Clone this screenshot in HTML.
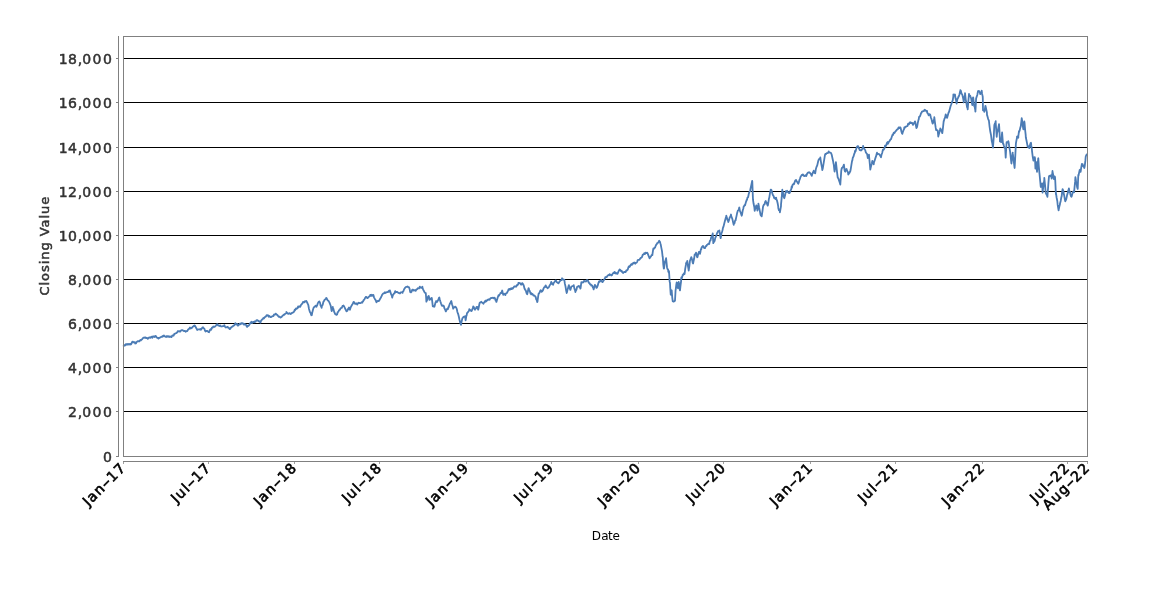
<!DOCTYPE html>
<html><head><meta charset="utf-8"><title>Chart</title>
<style>
html,body{margin:0;padding:0;background:#fff;}
body{width:1150px;height:600px;overflow:hidden;}
svg{display:block;will-change:transform;}
text{font-family:"DejaVu Sans","Liberation Sans",sans-serif;}
.yt{font-size:14px;fill:#333;stroke:#333;stroke-width:0.5px;}
.xt{font-size:14px;fill:#000;stroke:#000;stroke-width:0.6px;}
.al{font-size:12px;}
</style></head><body>
<svg width="1150" height="600" viewBox="0 0 1150 600">
<rect x="0" y="0" width="1150" height="600" fill="#ffffff"/>

<g stroke="#000" stroke-width="1" shape-rendering="crispEdges">
<line x1="123.5" y1="411.5" x2="1087.5" y2="411.5"/>
<line x1="123.5" y1="367.5" x2="1087.5" y2="367.5"/>
<line x1="123.5" y1="323.5" x2="1087.5" y2="323.5"/>
<line x1="123.5" y1="279.5" x2="1087.5" y2="279.5"/>
<line x1="123.5" y1="235.5" x2="1087.5" y2="235.5"/>
<line x1="123.5" y1="191.5" x2="1087.5" y2="191.5"/>
<line x1="123.5" y1="147.5" x2="1087.5" y2="147.5"/>
<line x1="123.5" y1="102.5" x2="1087.5" y2="102.5"/>
<line x1="123.5" y1="58.5" x2="1087.5" y2="58.5"/>
</g>
<path d="M123.7,345.9 L124.3,345.1 L125.0,345.5 L125.7,344.3 L126.3,344.7 L126.4,344.5 L127.1,344.0 L127.8,344.7 L128.4,344.0 L129.1,344.6 L129.8,344.0 L130.4,344.0 L130.5,344.5 L131.2,344.3 L131.9,342.4 L132.5,341.7 L133.0,341.7 L133.2,342.3 L133.9,342.1 L134.6,342.2 L135.3,343.5 L135.7,342.3 L136.0,343.4 L136.6,342.1 L137.3,341.5 L138.0,341.1 L138.7,341.1 L139.4,341.4 L140.1,340.1 L140.7,340.4 L140.9,340.4 L141.4,339.6 L142.1,339.4 L142.8,338.2 L143.5,337.7 L144.2,337.5 L144.9,337.8 L145.0,337.3 L145.5,337.3 L146.2,338.0 L146.9,338.0 L147.6,338.1 L147.7,338.8 L148.3,338.4 L149.0,337.4 L149.6,337.6 L150.3,337.3 L150.3,337.8 L151.0,337.5 L151.7,336.7 L152.4,337.7 L153.1,336.3 L153.7,336.6 L154.4,337.1 L155.1,336.0 L155.5,336.5 L155.8,336.0 L156.5,337.3 L157.2,337.8 L157.8,337.8 L158.5,338.6 L158.6,337.8 L159.2,338.1 L159.9,337.6 L160.6,337.2 L161.3,336.7 L162.0,336.9 L162.6,336.7 L162.8,336.0 L163.3,336.3 L164.0,335.4 L164.7,336.4 L165.4,336.4 L166.1,337.0 L166.7,336.8 L167.0,336.0 L167.4,336.3 L168.1,336.9 L168.8,336.1 L169.5,337.0 L170.2,336.7 L170.6,336.8 L170.8,336.5 L171.5,337.1 L172.2,335.6 L172.9,335.3 L173.2,335.3 L173.6,335.7 L174.3,333.9 L174.9,333.8 L175.6,333.3 L176.3,333.2 L177.0,332.5 L177.4,332.2 L177.7,331.2 L178.4,331.3 L179.1,331.0 L179.7,331.7 L180.4,331.6 L181.1,330.3 L181.8,330.2 L182.5,330.1 L182.6,330.1 L183.2,330.7 L183.8,331.1 L184.5,330.9 L185.2,330.9 L185.7,331.7 L185.9,331.5 L186.6,331.1 L187.3,331.0 L187.9,329.9 L188.6,329.0 L188.9,328.9 L189.3,328.8 L190.0,327.5 L190.7,328.5 L191.4,328.0 L192.0,327.9 L192.0,327.8 L192.7,326.8 L193.4,326.4 L194.1,325.6 L194.6,326.1 L194.8,325.5 L195.5,326.7 L196.2,328.0 L196.8,329.1 L197.2,330.0 L197.5,329.5 L198.2,329.3 L198.9,329.5 L199.6,329.3 L200.3,329.6 L200.3,329.0 L200.9,329.8 L201.6,328.9 L202.3,327.6 L203.0,327.3 L203.0,327.5 L203.7,328.3 L204.4,328.8 L205.0,330.7 L205.6,331.5 L205.7,330.8 L206.4,331.2 L207.1,330.9 L207.8,331.3 L208.5,332.0 L208.7,332.0 L209.1,332.2 L209.8,330.3 L210.5,329.2 L211.2,329.7 L211.8,328.2 L211.9,327.6 L212.6,327.7 L213.3,326.5 L213.9,326.7 L214.6,326.9 L215.3,326.3 L216.0,325.5 L216.7,324.4 L217.0,324.3 L217.4,324.2 L218.0,325.4 L218.7,325.3 L219.4,326.0 L220.1,325.6 L220.2,325.5 L220.8,326.3 L221.5,326.5 L222.1,326.3 L222.8,326.1 L223.5,326.1 L224.2,325.9 L224.3,325.2 L224.9,326.5 L225.6,327.4 L225.9,327.5 L226.2,327.3 L226.9,327.2 L227.6,326.8 L228.0,327.2 L228.3,327.9 L229.0,327.8 L229.6,329.0 L229.7,329.1 L230.4,328.7 L231.0,327.5 L231.7,327.0 L232.4,326.6 L232.7,326.5 L233.1,325.9 L233.8,325.6 L234.5,325.0 L235.1,323.9 L235.3,323.1 L235.8,323.8 L236.5,324.5 L237.2,323.9 L237.9,325.3 L237.9,325.7 L238.3,325.5 L238.6,325.3 L239.2,324.5 L239.9,323.7 L240.6,324.2 L241.3,323.1 L242.0,323.5 L242.0,323.7 L242.7,323.2 L243.3,323.5 L244.0,324.7 L244.6,324.7 L244.7,323.9 L245.4,324.4 L246.1,325.0 L246.8,326.7 L247.2,326.9 L247.5,325.7 L248.1,326.0 L248.8,325.5 L249.5,324.4 L250.2,323.2 L250.9,322.9 L250.9,322.2 L251.6,321.8 L252.2,323.0 L252.9,322.3 L253.6,321.9 L254.3,322.3 L254.5,321.4 L255.0,321.9 L255.7,321.6 L256.3,320.4 L257.0,320.2 L257.3,320.2 L257.7,320.3 L258.4,321.3 L259.1,321.2 L259.8,321.8 L260.3,321.7 L260.4,322.6 L261.1,320.7 L261.8,319.9 L262.5,319.1 L262.9,319.0 L263.2,318.1 L263.9,318.4 L264.6,317.3 L265.2,316.9 L265.9,316.5 L266.6,315.3 L267.0,315.6 L267.3,315.3 L268.0,315.2 L268.7,316.7 L269.3,315.9 L270.0,316.6 L270.7,317.2 L271.2,317.1 L271.4,316.7 L272.1,316.5 L272.8,316.1 L273.4,316.0 L274.1,314.5 L274.8,314.7 L275.5,313.8 L275.9,313.6 L276.2,314.5 L276.9,314.7 L277.6,315.3 L278.2,316.1 L278.9,316.9 L279.6,316.7 L280.3,317.5 L280.6,317.6 L281.0,317.3 L281.7,316.9 L282.3,315.9 L283.0,315.4 L283.7,314.7 L284.4,314.8 L285.1,313.8 L285.8,313.5 L286.4,313.0 L286.4,312.0 L287.1,312.8 L287.8,313.7 L288.5,313.8 L289.2,313.1 L289.9,313.3 L290.5,314.1 L291.0,313.8 L291.2,313.8 L291.9,312.8 L292.6,312.9 L293.3,312.3 L294.0,311.7 L294.7,309.8 L294.7,310.6 L295.3,309.9 L296.0,308.4 L296.7,308.8 L297.4,308.3 L298.1,306.5 L298.4,307.3 L298.8,306.4 L299.4,306.3 L300.1,306.9 L300.4,306.6 L300.8,305.1 L301.5,304.5 L302.2,303.7 L302.9,302.4 L303.0,302.0 L303.5,302.0 L304.2,302.4 L304.9,301.1 L305.6,301.7 L306.2,301.3 L306.3,300.8 L307.0,302.2 L307.6,303.5 L307.7,303.5 L308.3,305.0 L309.0,309.0 L309.7,311.2 L309.8,312.0 L310.4,312.4 L311.1,314.7 L311.4,315.3 L311.8,315.1 L312.4,311.9 L313.1,309.2 L313.8,307.2 L314.0,307.2 L314.5,307.0 L315.2,306.0 L315.9,305.7 L316.5,306.7 L316.6,306.2 L317.2,305.3 L317.9,303.1 L318.6,301.9 L319.2,301.7 L319.3,301.4 L320.0,302.6 L320.6,305.6 L321.3,306.8 L321.6,307.8 L322.0,305.6 L322.7,304.8 L323.4,301.7 L323.9,301.4 L324.1,300.6 L324.7,299.7 L325.4,299.2 L326.1,299.0 L326.2,297.9 L326.8,298.5 L327.5,300.1 L328.2,300.7 L328.9,301.4 L329.1,301.9 L329.5,302.7 L330.2,304.5 L330.7,305.8 L330.9,306.8 L331.6,310.9 L331.7,311.0 L332.3,309.3 L332.8,306.9 L333.0,307.7 L333.6,309.6 L334.3,312.4 L334.4,312.1 L335.0,313.9 L335.7,314.3 L336.4,314.4 L336.4,314.9 L337.1,314.5 L337.7,312.0 L338.4,311.8 L339.0,310.2 L339.1,310.2 L339.8,309.9 L340.5,308.5 L341.2,307.9 L341.6,307.6 L341.8,307.8 L342.5,306.0 L343.2,305.9 L343.5,305.4 L343.9,306.1 L344.6,307.4 L345.3,309.0 L346.0,310.2 L346.4,311.3 L346.6,310.8 L347.3,310.8 L348.0,309.1 L348.7,308.0 L349.0,307.5 L349.4,309.1 L349.9,309.7 L350.1,309.1 L350.7,307.3 L351.4,305.9 L352.1,304.8 L352.8,303.7 L353.5,302.0 L353.6,302.3 L354.2,302.2 L354.8,303.6 L355.5,303.9 L356.2,303.5 L356.9,303.4 L357.2,304.6 L357.6,303.5 L358.3,303.4 L358.9,302.7 L359.6,303.1 L360.3,303.1 L361.0,302.9 L361.7,302.3 L362.4,302.6 L362.4,301.8 L363.1,301.3 L363.7,300.0 L364.4,299.5 L365.1,297.9 L365.8,296.9 L366.1,296.8 L366.5,297.0 L367.2,298.1 L367.3,298.2 L367.8,298.0 L368.5,297.1 L369.2,296.5 L369.9,296.0 L370.3,294.9 L370.6,294.8 L371.3,295.9 L371.9,294.8 L372.6,295.8 L373.3,295.8 L373.4,294.9 L374.0,297.3 L374.7,298.7 L375.4,299.7 L376.0,301.2 L376.5,302.3 L376.7,301.2 L377.4,301.3 L378.1,300.9 L378.8,301.0 L379.1,300.7 L379.5,300.1 L380.2,298.6 L380.8,297.8 L381.5,296.2 L381.7,295.9 L382.2,294.7 L382.9,293.8 L383.6,293.4 L384.3,293.1 L384.9,292.2 L384.9,293.2 L385.6,292.6 L386.3,292.5 L387.0,292.2 L387.7,292.1 L388.4,291.6 L389.0,290.6 L389.0,291.8 L389.7,290.9 L389.9,290.4 L390.4,292.0 L391.1,294.3 L391.8,295.5 L392.2,297.7 L392.5,296.4 L393.1,294.8 L393.8,293.8 L394.5,293.2 L395.2,291.1 L395.3,291.7 L395.9,292.3 L396.6,291.9 L397.3,292.0 L397.9,292.4 L398.6,292.9 L399.3,293.3 L400.0,293.3 L400.0,293.4 L400.7,292.3 L401.4,292.3 L402.0,292.2 L402.6,292.8 L402.7,292.0 L403.4,291.2 L404.1,289.3 L404.8,288.2 L405.5,287.4 L406.1,286.9 L406.3,286.8 L406.8,286.9 L407.5,286.5 L408.2,287.1 L408.9,287.2 L408.9,287.2 L409.6,288.8 L410.2,292.1 L410.4,291.7 L410.9,292.4 L411.6,291.6 L412.3,289.6 L413.0,289.6 L413.0,290.1 L413.7,290.6 L414.4,290.2 L415.0,290.3 L415.1,290.2 L415.7,290.9 L416.4,289.3 L417.1,289.4 L417.8,288.2 L418.5,288.3 L419.1,288.4 L419.8,286.7 L419.8,287.7 L420.5,287.2 L421.2,287.8 L421.9,287.5 L422.4,286.8 L422.6,288.2 L423.2,289.6 L423.9,291.0 L424.0,291.2 L424.6,292.4 L425.3,293.0 L425.8,293.2 L426.0,295.7 L426.4,301.6 L426.7,300.8 L427.3,299.8 L428.0,296.6 L428.7,295.9 L428.7,296.1 L429.4,298.1 L429.5,299.9 L430.1,299.3 L430.8,299.3 L431.5,298.0 L431.8,298.0 L432.1,300.3 L432.8,306.4 L432.9,306.1 L433.5,306.2 L434.2,306.8 L434.4,306.7 L434.9,304.8 L435.6,302.3 L436.0,301.8 L436.2,301.0 L436.9,302.0 L437.6,300.9 L437.6,300.9 L438.3,299.8 L439.0,297.9 L439.3,297.5 L439.7,299.3 L440.3,301.3 L441.0,303.3 L441.7,305.1 L441.7,305.6 L442.4,305.8 L443.1,305.5 L443.3,305.8 L443.8,305.8 L444.4,308.3 L445.1,309.4 L445.8,311.4 L445.9,311.4 L446.5,310.1 L447.2,308.8 L447.9,309.1 L448.5,307.0 L448.6,307.5 L449.2,305.5 L449.9,303.6 L450.6,302.5 L451.1,301.5 L451.3,301.0 L452.0,304.2 L452.7,306.2 L453.2,308.7 L453.3,308.4 L454.0,307.5 L454.7,307.0 L455.4,306.6 L455.8,307.3 L456.1,307.4 L456.8,309.0 L457.4,312.0 L457.9,313.5 L458.1,313.7 L458.8,316.5 L459.5,319.8 L459.8,321.0 L460.2,322.6 L460.9,324.4 L461.0,324.9 L461.5,322.0 L462.2,319.0 L462.5,318.1 L462.9,317.7 L463.6,316.9 L464.3,316.6 L465.0,316.5 L465.1,316.2 L465.6,320.4 L465.7,320.0 L466.3,316.2 L466.7,315.1 L467.0,313.2 L467.7,312.5 L468.4,311.5 L469.1,310.6 L469.3,309.2 L469.8,309.6 L470.4,310.1 L471.1,310.9 L471.4,311.1 L471.8,310.8 L472.5,308.8 L473.0,307.6 L473.2,306.5 L473.9,307.2 L474.5,308.9 L475.0,309.7 L475.2,308.9 L475.9,308.5 L476.6,307.0 L477.3,306.9 L477.3,307.7 L478.0,309.1 L478.2,309.7 L478.6,308.1 L479.3,304.5 L479.7,302.8 L480.0,302.5 L480.7,302.3 L481.3,301.8 L481.4,302.2 L482.1,302.5 L482.8,303.0 L483.4,303.8 L483.4,303.3 L484.1,302.7 L484.8,301.3 L485.5,301.7 L486.0,300.4 L486.2,301.4 L486.9,300.7 L487.5,300.0 L488.2,299.5 L488.9,299.4 L489.1,299.9 L489.6,299.7 L490.3,298.4 L491.0,297.9 L491.6,298.1 L491.7,298.1 L492.3,297.9 L493.0,297.7 L493.7,298.4 L494.4,297.6 L494.9,298.1 L495.1,298.7 L495.7,300.7 L496.4,301.5 L496.4,301.9 L497.1,299.4 L497.8,297.2 L498.5,295.3 L498.5,296.3 L499.2,295.3 L499.9,294.1 L500.5,293.0 L501.1,293.2 L501.2,293.2 L501.9,291.3 L502.2,290.5 L502.6,292.4 L503.2,294.8 L503.3,293.8 L504.0,293.7 L504.6,294.4 L505.3,294.7 L505.3,295.1 L506.0,293.3 L506.7,293.2 L507.4,292.1 L508.1,290.7 L508.7,289.2 L509.0,290.0 L509.4,288.9 L510.1,289.6 L510.8,288.5 L511.5,288.4 L511.6,289.2 L512.2,288.1 L512.8,288.6 L513.5,287.5 L514.2,286.6 L514.7,286.3 L514.9,286.5 L515.6,286.5 L516.3,286.6 L517.0,285.0 L517.6,285.1 L517.8,284.7 L518.3,284.2 L518.4,282.8 L519.0,282.8 L519.7,283.0 L520.4,283.7 L521.1,284.6 L521.5,284.7 L521.7,283.8 L522.2,283.1 L522.4,283.5 L523.1,284.2 L523.8,285.7 L524.5,288.5 L525.2,289.9 L525.8,290.5 L526.5,293.1 L527.2,294.3 L527.2,294.3 L527.9,291.2 L528.5,288.3 L528.6,288.2 L529.3,290.0 L529.9,291.4 L530.6,293.7 L530.9,292.9 L531.3,294.4 L532.0,293.7 L532.7,294.3 L533.4,295.5 L533.5,295.5 L534.1,295.5 L534.7,295.6 L535.4,296.9 L535.8,297.1 L536.1,299.1 L536.8,300.4 L537.2,302.1 L537.5,301.5 L538.2,296.1 L538.7,293.3 L538.8,293.8 L539.5,292.8 L540.2,290.9 L540.8,290.2 L540.9,290.3 L541.6,291.8 L542.0,291.0 L542.3,291.4 L542.9,290.4 L543.6,288.4 L544.3,287.1 L545.0,287.0 L545.5,285.6 L545.7,285.4 L546.4,287.1 L547.0,287.5 L547.6,288.2 L547.7,287.6 L548.4,287.6 L549.1,286.7 L549.8,285.1 L550.5,284.4 L551.2,281.9 L551.2,282.1 L551.8,282.9 L552.5,284.2 L553.2,284.7 L553.3,283.9 L553.9,282.7 L554.6,281.8 L555.3,280.7 L555.4,281.1 L555.9,280.4 L556.6,281.9 L557.3,282.4 L558.0,283.1 L558.5,283.4 L558.7,283.0 L559.4,281.8 L560.0,281.0 L560.7,280.3 L561.4,280.2 L562.1,278.3 L562.2,278.4 L562.8,279.7 L563.5,279.5 L564.1,279.7 L564.3,279.7 L564.8,283.4 L565.5,286.4 L566.2,290.8 L566.7,293.0 L566.9,292.5 L567.6,289.4 L568.3,287.1 L568.9,285.1 L569.0,285.6 L569.6,288.0 L570.3,289.8 L570.4,289.9 L571.0,288.0 L571.5,286.3 L571.7,286.3 L572.4,286.1 L573.0,285.9 L573.6,285.3 L573.7,285.1 L574.4,288.6 L575.1,290.3 L575.4,292.0 L575.8,290.8 L576.5,289.5 L577.1,286.9 L577.2,286.8 L577.8,286.5 L578.5,286.0 L579.2,286.8 L579.3,286.2 L579.9,287.3 L580.4,288.6 L580.6,288.2 L581.2,283.4 L581.4,282.1 L581.9,282.7 L582.6,282.2 L583.3,282.4 L584.0,280.8 L584.7,281.0 L585.0,281.4 L585.4,281.4 L586.0,281.5 L586.7,280.2 L587.4,280.6 L587.6,280.3 L588.1,280.9 L588.8,282.9 L589.5,283.1 L590.1,284.4 L590.8,284.4 L591.3,285.6 L591.5,285.2 L592.2,285.5 L592.6,286.5 L592.9,287.7 L593.6,288.5 L593.6,289.4 L594.2,287.5 L594.9,284.8 L595.0,284.9 L595.6,285.9 L596.3,287.3 L596.5,287.9 L597.0,287.3 L597.7,285.7 L598.3,283.4 L599.0,281.5 L599.1,281.7 L599.7,281.8 L600.4,280.5 L601.1,280.2 L601.2,279.9 L601.8,281.6 L602.5,282.1 L602.8,281.8 L603.1,281.2 L603.8,280.2 L604.5,279.1 L604.9,278.5 L605.2,277.4 L605.9,277.0 L606.6,277.2 L607.2,276.2 L607.9,275.5 L608.6,274.9 L609.3,275.3 L609.6,274.2 L610.0,274.7 L610.7,274.7 L611.1,275.0 L611.3,275.5 L612.0,275.2 L612.7,273.7 L613.4,272.8 L614.1,273.1 L614.3,272.1 L614.8,272.0 L615.4,273.5 L616.1,273.0 L616.8,273.7 L617.4,273.3 L617.5,273.8 L618.2,272.1 L618.9,270.6 L619.6,269.4 L620.0,269.5 L620.2,269.9 L620.9,271.1 L621.6,270.7 L622.3,272.3 L623.0,272.7 L623.1,273.1 L623.7,272.2 L624.3,272.0 L625.0,271.9 L625.7,272.0 L626.3,270.4 L626.4,270.8 L627.1,270.2 L627.8,269.5 L628.4,267.3 L629.1,266.1 L629.4,267.0 L629.8,266.6 L630.5,265.3 L631.2,264.1 L631.9,264.8 L632.5,263.4 L633.2,263.6 L633.6,262.8 L633.9,263.3 L634.6,262.5 L635.3,263.7 L635.6,263.0 L636.0,262.8 L636.7,262.6 L637.3,261.6 L637.7,260.1 L638.0,260.0 L638.7,259.9 L639.4,259.8 L639.8,259.3 L640.1,258.6 L640.8,257.8 L641.4,257.6 L642.1,256.8 L642.8,254.6 L643.5,254.4 L643.5,254.7 L644.2,253.3 L644.9,254.1 L645.5,252.7 L646.2,253.1 L646.9,252.7 L647.1,252.7 L647.6,253.3 L648.3,255.1 L649.0,257.0 L649.5,258.1 L649.6,258.3 L650.3,257.1 L651.0,256.3 L651.7,254.9 L652.4,255.0 L652.4,254.6 L653.1,249.8 L653.4,248.4 L653.8,248.6 L654.4,248.5 L654.4,248.1 L655.1,247.3 L655.8,245.5 L656.5,244.3 L657.0,243.8 L657.2,243.1 L657.9,242.9 L658.5,242.2 L659.2,240.7 L659.3,241.5 L659.9,241.7 L660.6,244.1 L660.7,244.4 L661.3,247.6 L662.0,251.2 L662.6,256.5 L662.8,257.2 L663.3,264.6 L663.8,268.7 L664.0,268.7 L664.7,263.5 L664.9,261.6 L665.4,260.7 L666.1,258.2 L666.2,259.4 L666.7,264.0 L667.0,267.2 L667.4,268.8 L668.1,269.6 L668.3,271.6 L668.8,272.6 L669.0,271.2 L669.5,279.1 L669.6,281.4 L670.0,283.0 L670.2,287.3 L670.7,294.5 L670.9,294.8 L671.5,290.5 L671.7,290.3 L672.2,297.1 L672.7,301.1 L672.9,301.2 L673.6,301.7 L674.3,301.3 L674.9,300.7 L675.0,300.7 L675.6,289.8 L675.7,289.9 L676.3,284.7 L676.7,282.5 L677.0,282.9 L677.7,287.9 L678.0,288.2 L678.4,285.0 L678.7,281.9 L679.1,283.9 L679.7,289.4 L680.0,290.4 L680.4,286.6 L681.1,281.1 L681.3,277.5 L681.8,278.2 L682.5,275.7 L682.7,274.8 L683.2,275.1 L683.8,273.4 L684.5,274.1 L684.7,273.2 L685.2,268.9 L685.9,264.9 L686.0,263.6 L686.6,262.1 L687.3,262.3 L687.3,260.8 L688.0,266.3 L688.6,269.6 L688.7,270.6 L689.3,266.4 L690.0,260.5 L690.0,260.7 L690.7,258.8 L691.3,257.1 L691.4,257.3 L692.1,259.7 L692.7,262.8 L693.1,263.5 L693.4,261.8 L694.1,258.8 L694.7,254.3 L694.8,254.3 L695.5,254.5 L696.0,252.7 L696.2,253.2 L696.8,256.2 L697.3,257.3 L697.5,257.0 L698.2,254.0 L698.9,252.0 L698.9,251.8 L699.6,252.3 L700.0,253.9 L700.3,252.6 L700.9,249.1 L701.3,249.2 L701.6,247.5 L702.3,246.6 L703.0,245.9 L703.3,246.6 L703.7,247.5 L704.4,248.1 L705.1,248.1 L705.1,247.9 L705.7,246.1 L706.4,246.0 L706.7,245.4 L707.1,244.6 L707.8,244.6 L708.5,243.6 L709.2,244.0 L709.3,243.5 L709.8,241.1 L710.5,240.6 L711.2,237.1 L711.3,237.7 L711.9,236.1 L712.6,234.0 L712.7,233.4 L713.3,243.2 L713.3,242.7 L713.9,242.1 L714.6,241.1 L715.3,237.7 L715.3,237.7 L716.0,236.6 L716.7,234.3 L717.3,232.6 L717.4,232.9 L718.0,231.2 L718.7,231.0 L719.3,230.6 L719.4,230.5 L720.1,235.6 L720.7,238.2 L720.8,237.6 L721.5,233.2 L722.1,231.9 L722.7,229.5 L722.8,228.4 L723.5,226.6 L724.2,223.7 L724.9,221.0 L725.6,218.4 L726.3,216.4 L726.3,215.7 L726.9,217.8 L727.6,220.2 L728.3,221.7 L728.3,222.0 L729.0,220.1 L729.7,217.5 L730.4,216.4 L731.0,214.5 L731.0,215.4 L731.7,217.3 L732.4,219.1 L733.1,222.3 L733.7,224.9 L733.8,223.3 L734.5,223.4 L735.1,220.6 L735.7,220.2 L735.8,219.2 L736.5,216.1 L737.0,213.6 L737.2,212.8 L737.9,210.5 L738.6,210.2 L739.2,207.7 L739.3,207.5 L739.9,210.8 L740.6,212.4 L741.3,214.6 L741.7,215.7 L742.0,214.8 L742.7,210.6 L743.4,208.2 L743.7,206.4 L744.0,206.4 L744.7,205.0 L745.0,205.4 L745.4,204.0 L746.1,201.6 L746.8,199.6 L747.0,199.8 L747.5,197.5 L748.1,197.2 L748.8,193.8 L749.0,193.1 L749.5,191.7 L750.2,191.3 L750.3,189.7 L750.9,186.9 L751.6,183.7 L752.2,180.8 L752.3,181.7 L752.9,197.7 L753.0,199.7 L753.6,203.8 L754.3,207.0 L754.7,210.9 L755.0,209.5 L755.7,207.8 L756.3,205.3 L756.3,205.6 L757.0,207.3 L757.4,210.7 L757.7,208.8 L758.3,204.9 L758.4,203.6 L759.1,207.5 L759.8,210.9 L760.1,212.4 L760.5,214.7 L761.1,215.7 L761.7,216.3 L761.8,215.7 L762.5,210.8 L763.0,206.9 L763.2,206.1 L763.9,204.6 L764.6,204.3 L765.2,201.7 L765.7,201.0 L765.9,201.8 L766.6,202.6 L767.3,204.6 L767.7,205.6 L768.0,204.7 L768.7,200.3 L769.0,198.3 L769.3,197.7 L770.0,193.1 L770.7,190.1 L770.7,189.6 L771.4,190.1 L772.1,192.5 L772.3,193.2 L772.8,194.9 L773.4,195.6 L774.1,198.0 L774.3,198.1 L774.8,197.6 L775.5,199.1 L776.2,197.8 L776.3,199.3 L776.9,200.3 L777.6,203.0 L778.2,206.3 L778.3,207.9 L778.9,210.2 L779.6,210.4 L779.9,212.4 L780.3,210.0 L781.0,206.1 L781.0,204.7 L781.7,197.7 L782.3,189.7 L782.3,190.7 L783.0,192.5 L783.7,196.9 L784.3,198.2 L784.4,197.8 L785.1,195.3 L785.7,192.0 L785.8,191.2 L786.4,192.0 L787.1,190.7 L787.7,191.9 L787.8,191.9 L788.5,192.7 L789.2,193.1 L789.7,193.0 L789.9,192.5 L790.5,190.5 L791.2,189.4 L791.7,186.5 L791.9,187.7 L792.6,184.8 L793.3,184.1 L793.7,183.5 L794.0,184.2 L794.7,182.0 L795.3,180.4 L795.7,180.8 L796.0,179.9 L796.7,181.2 L797.4,182.2 L798.1,183.5 L798.3,183.8 L798.8,182.5 L799.4,180.1 L800.1,178.3 L800.8,176.2 L801.5,175.8 L801.7,175.0 L802.2,175.3 L802.9,174.4 L803.5,175.2 L804.2,176.1 L804.9,175.9 L805.6,175.2 L805.7,175.9 L806.3,176.0 L807.0,173.9 L807.6,173.0 L808.3,172.4 L809.0,172.4 L809.0,172.7 L809.7,172.4 L810.4,173.4 L811.1,174.6 L811.7,175.7 L811.8,175.8 L812.4,173.5 L813.1,172.3 L813.7,170.7 L813.8,172.5 L814.5,172.8 L815.0,172.2 L815.2,173.3 L815.9,168.9 L816.5,166.9 L817.2,165.5 L817.9,162.5 L818.3,160.8 L818.6,159.9 L819.3,158.8 L820.0,159.0 L820.3,157.5 L820.6,159.6 L821.3,164.1 L822.0,167.5 L822.3,170.1 L822.7,168.8 L823.4,164.7 L824.1,160.4 L824.7,156.7 L825.0,154.9 L825.4,153.9 L826.1,154.1 L826.8,153.1 L827.5,153.1 L828.2,152.8 L828.7,151.3 L828.9,151.7 L829.5,152.6 L830.2,152.6 L830.9,152.8 L831.6,154.4 L831.7,154.8 L832.3,157.5 L833.0,160.7 L833.6,164.2 L833.7,164.0 L834.3,169.6 L834.6,171.6 L835.0,168.6 L835.7,164.8 L835.9,162.2 L836.4,166.4 L837.1,172.7 L837.7,177.4 L837.7,177.5 L838.4,178.6 L839.1,180.8 L839.8,182.8 L840.3,184.6 L840.5,181.8 L841.2,171.6 L841.3,170.5 L841.8,168.0 L842.5,167.6 L843.2,166.6 L843.9,164.6 L843.9,164.7 L844.6,170.3 L845.0,171.4 L845.3,171.7 L846.0,169.3 L846.6,168.9 L846.6,169.3 L847.3,170.9 L848.0,172.4 L848.3,174.5 L848.7,173.8 L849.4,173.0 L850.1,171.5 L850.3,171.3 L850.7,169.3 L851.4,164.8 L852.1,160.7 L852.3,160.6 L852.8,157.7 L853.5,156.6 L854.2,154.0 L854.8,152.7 L855.0,150.9 L855.5,151.6 L856.2,149.0 L856.9,147.0 L857.6,146.1 L857.7,146.1 L858.3,146.4 L858.9,148.3 L859.6,149.5 L859.7,150.1 L860.3,150.0 L861.0,150.5 L861.0,150.4 L861.7,149.9 L862.4,148.7 L863.0,146.4 L863.1,145.9 L863.7,148.4 L864.4,149.0 L865.0,149.8 L865.1,149.8 L865.8,152.2 L866.5,153.4 L867.0,153.9 L867.2,154.4 L867.8,158.0 L867.9,157.8 L868.5,157.4 L869.0,154.7 L869.2,157.5 L869.9,165.0 L870.3,169.6 L870.6,168.0 L871.3,165.2 L871.9,163.2 L872.3,160.9 L872.6,162.8 L873.3,162.8 L873.7,164.4 L874.0,162.2 L874.7,160.4 L875.4,158.1 L876.0,156.4 L876.7,153.8 L877.0,152.7 L877.4,154.3 L878.1,153.8 L878.8,154.0 L879.5,154.5 L879.7,155.0 L880.2,155.6 L880.8,157.0 L881.0,157.3 L881.5,154.6 L882.2,153.0 L882.3,152.4 L882.9,149.7 L883.6,149.8 L884.3,148.6 L884.9,147.0 L885.0,145.6 L885.6,146.2 L886.3,145.0 L887.0,142.9 L887.7,142.0 L887.7,143.9 L888.4,142.9 L889.0,141.6 L889.7,140.9 L889.7,140.8 L890.4,139.5 L891.1,139.1 L891.8,136.7 L892.5,134.8 L893.0,135.1 L893.1,134.7 L893.8,132.6 L894.5,133.1 L895.2,131.6 L895.9,131.0 L896.6,129.9 L897.0,129.8 L897.3,129.4 L897.9,129.1 L898.6,127.4 L899.3,128.0 L900.0,127.3 L900.3,127.5 L900.7,128.1 L901.4,131.5 L902.0,133.4 L902.3,133.9 L902.7,132.6 L903.4,130.4 L904.1,129.0 L904.3,127.4 L904.8,127.9 L905.5,126.6 L906.1,126.7 L906.8,126.1 L907.0,126.1 L907.5,126.1 L908.2,123.6 L908.9,124.4 L909.6,122.9 L910.2,122.2 L910.3,122.3 L910.9,123.1 L911.6,122.7 L912.3,123.3 L913.0,124.9 L913.0,123.2 L913.7,123.7 L914.4,123.1 L915.0,121.3 L915.3,122.2 L915.7,124.4 L916.4,128.0 L916.6,127.7 L917.1,126.8 L917.8,122.9 L918.5,119.8 L918.7,119.5 L919.1,116.8 L919.8,116.6 L920.5,114.9 L921.2,112.8 L921.7,112.7 L921.9,111.6 L922.6,111.4 L923.2,111.1 L923.9,111.2 L924.6,109.7 L925.0,109.9 L925.3,110.0 L926.0,110.8 L926.7,111.8 L927.0,110.9 L927.3,112.9 L928.0,113.7 L928.6,115.3 L928.7,114.7 L929.4,114.1 L929.9,114.3 L930.1,114.3 L930.8,117.3 L931.5,119.1 L932.1,121.8 L932.6,123.6 L932.8,123.4 L933.5,121.1 L934.2,119.1 L934.3,117.1 L934.9,122.2 L935.6,127.2 L936.1,130.1 L936.2,129.2 L936.9,130.3 L937.6,130.3 L937.7,130.7 L938.3,136.6 L938.3,136.2 L939.0,133.7 L939.7,131.3 L940.3,128.8 L940.3,128.3 L941.0,129.9 L941.7,131.5 L942.3,133.1 L942.4,132.3 L943.1,126.7 L943.7,120.8 L943.8,121.4 L944.4,118.9 L945.1,117.5 L945.7,114.5 L945.8,114.9 L946.5,115.7 L947.0,117.9 L947.2,117.6 L947.9,115.0 L948.6,112.4 L949.0,112.0 L949.2,111.2 L949.9,108.7 L950.6,106.0 L951.0,104.9 L951.3,104.3 L952.0,102.1 L952.6,100.5 L952.7,100.6 L953.3,96.6 L953.4,94.4 L954.0,95.5 L954.7,94.4 L955.0,94.6 L955.4,97.8 L956.1,100.4 L956.6,103.5 L956.8,102.1 L957.4,99.0 L958.1,97.7 L958.7,96.2 L958.8,96.6 L959.5,94.3 L960.2,90.9 L960.3,90.2 L960.9,90.9 L961.5,93.7 L962.2,94.5 L962.3,94.6 L962.9,97.3 L963.6,100.7 L963.7,102.4 L964.3,97.5 L965.0,95.1 L965.0,93.2 L965.7,99.3 L966.3,102.6 L966.3,102.4 L967.0,106.9 L967.7,108.8 L967.7,109.4 L968.4,100.8 L969.0,93.8 L969.1,95.3 L969.8,95.5 L970.3,96.0 L970.4,96.3 L971.1,98.2 L971.8,102.5 L972.3,105.1 L972.5,102.6 L973.0,97.5 L973.2,97.4 L973.9,103.6 L974.3,106.4 L974.5,106.1 L975.2,109.5 L975.4,111.6 L975.9,102.8 L976.1,98.5 L976.6,96.9 L977.3,95.0 L978.0,91.2 L978.3,91.1 L978.6,90.9 L979.3,91.3 L980.0,93.2 L980.3,94.1 L980.7,93.1 L981.4,92.2 L981.7,90.6 L982.1,93.9 L982.7,96.4 L982.8,98.1 L983.0,110.3 L983.4,110.3 L984.1,110.9 L984.3,111.9 L984.8,109.6 L985.4,105.9 L985.5,106.0 L986.2,109.1 L986.9,112.4 L987.0,114.9 L987.5,116.4 L988.2,119.1 L988.9,120.7 L989.0,121.5 L989.6,126.8 L990.3,131.6 L990.3,131.5 L991.0,135.0 L991.6,139.7 L991.7,140.8 L992.3,143.4 L993.0,147.7 L993.0,147.3 L993.7,137.6 L993.9,133.9 L994.3,125.6 L994.4,124.8 L995.1,123.0 L995.7,121.2 L995.7,122.6 L996.4,132.5 L996.7,136.8 L997.1,132.9 L997.8,130.7 L998.5,126.8 L999.0,124.1 L999.2,126.6 L999.9,138.8 L999.9,141.4 L1000.5,141.6 L1001.2,141.7 L1001.3,142.2 L1001.9,134.7 L1002.1,132.5 L1002.6,139.0 L1003.0,143.9 L1003.3,143.4 L1004.0,146.1 L1004.6,148.1 L1005.3,148.1 L1005.3,150.1 L1005.7,157.7 L1006.0,151.9 L1006.6,142.1 L1006.7,142.1 L1007.4,142.6 L1008.1,142.1 L1008.3,141.2 L1008.7,142.8 L1009.4,148.0 L1009.7,149.2 L1010.1,151.7 L1010.8,158.0 L1011.4,163.5 L1011.5,162.8 L1012.2,157.0 L1012.7,152.6 L1012.8,153.9 L1013.5,158.9 L1014.2,164.8 L1014.6,168.0 L1014.9,163.3 L1015.6,149.6 L1015.9,143.5 L1016.3,141.2 L1017.0,137.6 L1017.0,136.6 L1017.6,136.1 L1018.3,137.7 L1018.3,136.4 L1019.0,131.2 L1019.0,132.2 L1019.7,130.4 L1020.4,127.1 L1020.7,126.9 L1021.1,123.6 L1021.7,118.7 L1021.7,118.1 L1022.4,122.1 L1023.1,128.0 L1023.4,129.4 L1023.8,125.5 L1024.3,121.5 L1024.5,122.4 L1025.2,130.6 L1025.7,135.2 L1025.8,137.2 L1026.5,140.5 L1027.2,144.2 L1027.7,146.9 L1027.9,145.9 L1028.6,146.6 L1029.3,148.1 L1029.3,148.0 L1029.9,145.5 L1030.6,143.0 L1031.0,142.8 L1031.3,145.7 L1031.9,149.2 L1032.0,150.8 L1032.7,156.5 L1033.3,159.8 L1033.4,160.7 L1034.1,159.0 L1034.7,157.1 L1035.0,158.2 L1035.4,168.2 L1035.4,168.6 L1036.1,163.4 L1036.3,162.2 L1036.8,169.0 L1037.0,171.8 L1037.5,166.7 L1038.2,158.5 L1038.3,158.3 L1038.8,166.0 L1039.4,172.8 L1039.5,173.7 L1040.2,181.0 L1040.7,186.4 L1040.9,187.0 L1041.6,184.9 L1042.1,183.3 L1042.3,185.1 L1042.6,192.6 L1042.9,189.8 L1043.6,184.4 L1044.3,179.8 L1044.3,177.8 L1045.0,184.6 L1045.7,192.5 L1045.7,192.9 L1046.4,194.2 L1047.0,195.3 L1047.4,196.9 L1047.7,193.0 L1048.4,183.2 L1049.0,176.3 L1049.1,176.1 L1049.8,175.7 L1050.5,176.1 L1051.0,175.3 L1051.2,176.2 L1051.7,178.6 L1051.8,178.2 L1052.5,171.0 L1052.6,171.8 L1053.2,174.9 L1053.7,177.7 L1053.9,179.1 L1054.6,176.3 L1055.0,176.9 L1055.3,181.5 L1055.9,194.1 L1055.9,192.7 L1056.6,197.5 L1057.3,201.0 L1057.7,204.9 L1058.0,206.8 L1058.6,210.3 L1058.7,209.6 L1059.4,206.2 L1059.9,204.6 L1060.0,203.5 L1060.7,200.9 L1061.4,197.0 L1061.7,196.1 L1062.1,192.1 L1062.6,189.1 L1062.8,189.5 L1063.5,191.4 L1063.9,194.7 L1064.1,194.8 L1064.8,199.2 L1065.3,201.3 L1065.5,200.7 L1066.2,199.4 L1066.9,196.1 L1067.0,195.3 L1067.6,193.6 L1068.3,190.3 L1068.7,189.5 L1068.9,188.5 L1069.6,192.3 L1070.1,191.8 L1070.3,194.3 L1071.0,196.2 L1071.4,196.8 L1071.7,196.3 L1072.4,193.5 L1072.7,192.2 L1073.0,191.8 L1073.7,191.4 L1074.1,192.3 L1074.4,188.9 L1075.1,181.9 L1075.4,177.2 L1075.8,179.5 L1076.3,183.5 L1076.5,182.4 L1077.1,187.2 L1077.7,188.9 L1077.8,187.1 L1078.3,175.0 L1078.5,175.9 L1079.2,172.2 L1079.7,170.0 L1079.9,169.8 L1080.6,171.9 L1080.7,171.4 L1081.2,167.6 L1081.9,164.0 L1082.1,164.2 L1082.6,164.1 L1083.3,166.4 L1084.0,167.1 L1084.3,168.0 L1084.7,166.3 L1085.4,160.4 L1085.7,156.7 L1086.0,155.8 L1086.7,154.4 L1087.0,154.7" fill="none" stroke="#4c7cb5" stroke-width="1.8" stroke-linejoin="round" stroke-linecap="round"/>
<rect x="123.5" y="36.5" width="964.0" height="420.0" fill="none" stroke="#808080" stroke-width="1" shape-rendering="crispEdges"/>
<g stroke="#808080" stroke-width="1" shape-rendering="crispEdges">
<line x1="118.5" y1="36.0" x2="118.5" y2="457.0"/>
<line x1="123.0" y1="461.5" x2="1088.0" y2="461.5"/>
<line x1="116.0" y1="456.5" x2="118.5" y2="456.5"/>
<line x1="116.0" y1="411.5" x2="118.5" y2="411.5"/>
<line x1="116.0" y1="367.5" x2="118.5" y2="367.5"/>
<line x1="116.0" y1="323.5" x2="118.5" y2="323.5"/>
<line x1="116.0" y1="279.5" x2="118.5" y2="279.5"/>
<line x1="116.0" y1="235.5" x2="118.5" y2="235.5"/>
<line x1="116.0" y1="191.5" x2="118.5" y2="191.5"/>
<line x1="116.0" y1="147.5" x2="118.5" y2="147.5"/>
<line x1="116.0" y1="102.5" x2="118.5" y2="102.5"/>
<line x1="116.0" y1="58.5" x2="118.5" y2="58.5"/>
</g>
<g stroke="#a0a0a0" stroke-width="1" shape-rendering="crispEdges">
<line x1="123.5" y1="462.0" x2="123.5" y2="464.0"/>
<line x1="208.5" y1="462.0" x2="208.5" y2="464.0"/>
<line x1="294.5" y1="462.0" x2="294.5" y2="464.0"/>
<line x1="379.5" y1="462.0" x2="379.5" y2="464.0"/>
<line x1="466.5" y1="462.0" x2="466.5" y2="464.0"/>
<line x1="551.5" y1="462.0" x2="551.5" y2="464.0"/>
<line x1="638.5" y1="462.0" x2="638.5" y2="464.0"/>
<line x1="723.5" y1="462.0" x2="723.5" y2="464.0"/>
<line x1="810.5" y1="462.0" x2="810.5" y2="464.0"/>
<line x1="895.5" y1="462.0" x2="895.5" y2="464.0"/>
<line x1="982.5" y1="462.0" x2="982.5" y2="464.0"/>
<line x1="1067.5" y1="462.0" x2="1067.5" y2="464.0"/>
<line x1="1087.5" y1="462.0" x2="1087.5" y2="464.0"/>
</g>
<text class="yt" x="103.00" y="461.5">0</text>
<text class="yt" x="67.95 77.70 82.15 92.60 103.00" y="416.5">2,000</text>
<text class="yt" x="67.95 77.70 82.15 92.60 103.00" y="372.5">4,000</text>
<text class="yt" x="67.95 77.70 82.15 92.60 103.00" y="328.5">6,000</text>
<text class="yt" x="67.95 77.70 82.15 92.60 103.00" y="284.5">8,000</text>
<text class="yt" x="58.67 67.95 77.70 82.15 92.60 103.00" y="240.5">10,000</text>
<text class="yt" x="58.67 67.95 77.70 82.15 92.60 103.00" y="196.5">12,000</text>
<text class="yt" x="58.67 67.95 77.70 82.15 92.60 103.00" y="152.5">14,000</text>
<text class="yt" x="58.67 67.95 77.70 82.15 92.60 103.00" y="107.5">16,000</text>
<text class="yt" x="58.67 67.95 77.70 82.15 92.60 103.00" y="63.5">18,000</text>
<text class="xt" transform="translate(119.80,475.4) rotate(-45)" x="-44.41 -38.98 -29.10" y="0">Jan<tspan x="-19.40" textLength="8.59" lengthAdjust="spacingAndGlyphs">-</tspan><tspan x="-10.43 0.00">17</tspan></text>
<text class="xt" transform="translate(204.80,475.4) rotate(-45)" x="-39.72 -34.29 -24.12" y="0">Jul<tspan x="-19.40" textLength="8.59" lengthAdjust="spacingAndGlyphs">-</tspan><tspan x="-10.43 0.00">17</tspan></text>
<text class="xt" transform="translate(290.80,475.4) rotate(-45)" x="-44.41 -38.98 -29.10" y="0">Jan<tspan x="-19.40" textLength="8.59" lengthAdjust="spacingAndGlyphs">-</tspan><tspan x="-10.43 0.00">18</tspan></text>
<text class="xt" transform="translate(375.80,475.4) rotate(-45)" x="-39.72 -34.29 -24.12" y="0">Jul<tspan x="-19.40" textLength="8.59" lengthAdjust="spacingAndGlyphs">-</tspan><tspan x="-10.43 0.00">18</tspan></text>
<text class="xt" transform="translate(462.80,475.4) rotate(-45)" x="-44.41 -38.98 -29.10" y="0">Jan<tspan x="-19.40" textLength="8.59" lengthAdjust="spacingAndGlyphs">-</tspan><tspan x="-10.43 0.00">19</tspan></text>
<text class="xt" transform="translate(547.80,475.4) rotate(-45)" x="-39.72 -34.29 -24.12" y="0">Jul<tspan x="-19.40" textLength="8.59" lengthAdjust="spacingAndGlyphs">-</tspan><tspan x="-10.43 0.00">19</tspan></text>
<text class="xt" transform="translate(634.80,475.4) rotate(-45)" x="-44.41 -38.98 -29.10" y="0">Jan<tspan x="-19.40" textLength="8.59" lengthAdjust="spacingAndGlyphs">-</tspan><tspan x="-10.43 0.00">20</tspan></text>
<text class="xt" transform="translate(719.80,475.4) rotate(-45)" x="-39.72 -34.29 -24.12" y="0">Jul<tspan x="-19.40" textLength="8.59" lengthAdjust="spacingAndGlyphs">-</tspan><tspan x="-10.43 0.00">20</tspan></text>
<text class="xt" transform="translate(806.80,475.4) rotate(-45)" x="-44.41 -38.98 -29.10" y="0">Jan<tspan x="-19.40" textLength="8.59" lengthAdjust="spacingAndGlyphs">-</tspan><tspan x="-10.43 0.00">21</tspan></text>
<text class="xt" transform="translate(891.80,475.4) rotate(-45)" x="-39.72 -34.29 -24.12" y="0">Jul<tspan x="-19.40" textLength="8.59" lengthAdjust="spacingAndGlyphs">-</tspan><tspan x="-10.43 0.00">21</tspan></text>
<text class="xt" transform="translate(978.80,475.4) rotate(-45)" x="-44.41 -38.98 -29.10" y="0">Jan<tspan x="-19.40" textLength="8.59" lengthAdjust="spacingAndGlyphs">-</tspan><tspan x="-10.43 0.00">22</tspan></text>
<text class="xt" transform="translate(1063.80,475.4) rotate(-45)" x="-39.72 -34.29 -24.12" y="0">Jul<tspan x="-19.40" textLength="8.59" lengthAdjust="spacingAndGlyphs">-</tspan><tspan x="-10.43 0.00">22</tspan></text>
<text class="xt" transform="translate(1083.80,475.4) rotate(-45)" x="-50.17 -39.29 -29.12" y="0">Aug<tspan x="-19.40" textLength="8.59" lengthAdjust="spacingAndGlyphs">-</tspan><tspan x="-10.43 0.00">22</tspan></text>
<text x="591.7 601.3 608.1 612.4" y="540" fill="#000" style="font-size:12px">Date</text>
<text transform="translate(49.4,295.5) rotate(-90)" fill="#333" stroke="#333" stroke-width="0.5" style="font-size:13px;letter-spacing:0.95px">Closing Value</text>
</svg></body></html>
